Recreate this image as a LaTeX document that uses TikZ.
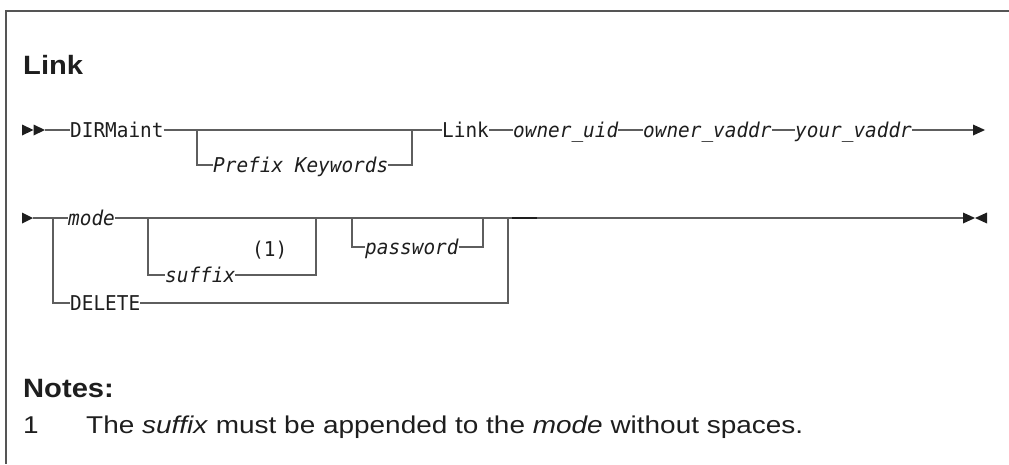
\documentclass[tikz,border=0pt]{standalone}
\usepackage{fontspec}
\setmainfont{Liberation Sans}
\newfontfamily\monofont{DejaVu Sans Mono}[FakeStretch=0.95]
\newfontfamily\headfont{Liberation Sans}[FakeStretch=1.1]
\newfontfamily\notefont{Liberation Sans}[FakeStretch=1.15]
\definecolor{linegray}{HTML}{5E5E5E}
\definecolor{framegray}{HTML}{555555}
\definecolor{ink}{HTML}{1E1E1E}
\begin{document}
\begin{tikzpicture}[x=1pt,y=-1pt,
  ln/.style={draw=linegray, line width=1.3pt},
  frameline/.style={draw=framegray, line width=1.8pt},
  kw/.style={font=\fontsize{20.4}{24}\selectfont\monofont, inner sep=0pt, text height=14.8pt, text depth=0pt, anchor=west, text=ink},
  var/.style={kw, font=\fontsize{20.4}{24}\selectfont\monofont\itshape},
  tip/.style={fill=ink},
  title/.style={anchor=base west, inner sep=0pt, font=\fontsize{26.5}{30}\selectfont\headfont\bfseries, text=ink},
  notetext/.style={anchor=base west, inner sep=0pt, font=\fontsize{24.3}{28}\selectfont\notefont, text=ink}]
\useasboundingbox (0,0) rectangle (1009,464);
\draw[frameline] (1009,11) -- (6,11) -- (6,464);

\node[title] (ttl) at (23,74) {Link};

% Row 1
\fill[tip] (22,124.5) -- (33.5,130) -- (22,135.5) -- cycle;
\fill[tip] (33.5,124.5) -- (45,130) -- (33.5,135.5) -- cycle;
\coordinate (s1) at (45,130);
\node[kw] (dirm) at (70,130) {DIRMaint};
\node[var] (pk) at (213,165) {Prefix Keywords};
\node[kw] (link) at (442,130) {Link};
\node[var] (ouid) at (513,130) {owner\_uid};
\node[var] (ova) at (643,130) {owner\_vaddr};
\node[var] (yva) at (795,130) {your\_vaddr};
\coordinate (j1) at (197,130);
\coordinate (j2) at (412,130);
\coordinate (e1) at (974,130);
\draw[ln] (s1) -- (dirm.west);
\draw[ln] (dirm.east) -- (link.west);
\draw[ln] (j1) |- (pk.west);
\draw[ln] (pk.east) -| (j2);
\draw[ln] (link.east) -- (ouid.west);
\draw[ln] (ouid.east) -- (ova.west);
\draw[ln] (ova.east) -- (yva.west);
\draw[ln] (yva.east) -- (e1);
\fill[tip] (973,124.5) -- (985,130) -- (973,135.5) -- cycle;

% Row 2
\fill[tip] (22,212.5) -- (33,218) -- (22,223.5) -- cycle;
\coordinate (a0) at (33,218);
\node[var] (mode) at (68,218) {mode};
\node[var] (suf) at (165,275) {suffix};
\node[kw] (n1) at (252,249) {(1)};
\node[var] (pw) at (365,247) {password};
\node[kw] (del) at (70,303) {DELETE};
\coordinate (ja) at (53,218);
\coordinate (jb) at (148,218);
\coordinate (jc) at (316,218);
\coordinate (jd) at (352,218);
\coordinate (je) at (483,218);
\coordinate (jf) at (508,218);
\coordinate (e2) at (964,218);
\draw[ln] (a0) -- (mode.west);
\draw[ln] (ja) |- (del.west);
\draw[ln] (mode.east) -- (e2);
\draw[ln] (jb) |- (suf.west);
\draw[ln] (suf.east) -| (jc);
\draw[ln] (jd) |- (pw.west);
\draw[ln] (pw.east) -| (je);
\draw[ln] (del.east) -| (jf);
\draw[ink, line width=1.8pt] (512,218) -- (537,218);
\fill[tip] (963,212.5) -- (975,218) -- (963,223.5) -- cycle;
\fill[tip] (987,212.5) -- (975,218) -- (987,223.5) -- cycle;

% Notes
\node[title] (notes) at (23,397) {Notes:};
\node[notetext] (num) at (23,433) {1};
\node[notetext] (nt) at (86,433) {The \textit{suffix} must be appended to the \textit{mode} without spaces.};
\end{tikzpicture}
\end{document}
